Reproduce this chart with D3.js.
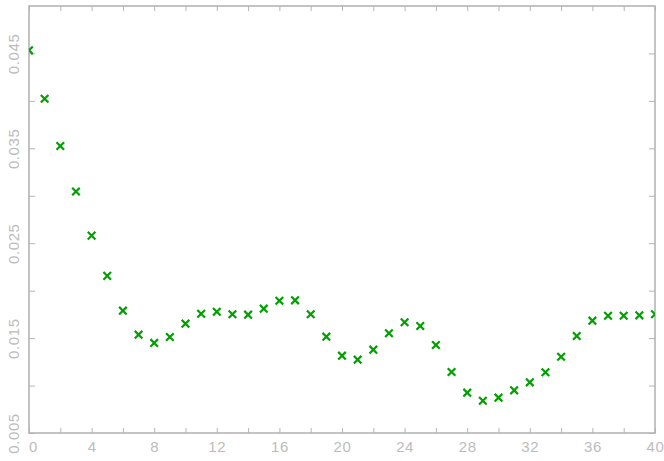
<!DOCTYPE html>
<html><head><meta charset="utf-8">
<script src="https://cdn.jsdelivr.net/npm/d3@7"></script>
<style>body{margin:0;background:#fff}svg{display:block}</style>
</head><body>
<script>
const xValues = [0,1,2,3,4,5,6,7,8,9,10,11,12,13,14,15,16,17,18,19,20,21,22,23,24,25,26,27,28,29,30,31,32,33,34,35,36,37,38,39,40];
const yValues = [0.04533,0.04023,0.03525,0.03045,0.0258,0.02156,0.01789,0.01536,0.01449,0.01512,0.01652,
  0.01757,0.01778,0.01751,0.01747,0.0181,0.01894,0.01898,0.01751,0.01515,0.01315,0.01273,0.01378,0.01551,
  0.01667,0.01628,0.01427,0.01143,0.00925,0.0084,0.00872,0.0095,0.01034,0.0114,0.01304,0.01522,0.01684,
  0.01736,0.01736,0.0174,0.01751];
const xTicks = d3.range(0, 41, 2);
const xLabels = [0,4,8,12,16,20,24,28,32,36,40];
const yTicks = [0.005,0.01,0.015,0.02,0.025,0.03,0.035,0.04,0.045];
const yLabels = ["0.005","0.015","0.025","0.035","0.045"];

const W = 664, H = 461;
const L = 29, R = 655, T = 6, B = 433;
const axisColor = "#b4b4b4", labelColor = "#bcbcbc", markColor = "#00a000";

const svg = d3.select("body").append("svg").attr("width", W).attr("height", H);
const x = d3.scaleLinear().domain([0, 40]).range([L, R]);
const y = d3.scaleLinear().domain([0.005, 0.05]).range([B, T]);

svg.append("defs").append("clipPath").attr("id","clip")
  .append("rect").attr("x", L).attr("y", T).attr("width", R-L).attr("height", B-T);

function styleAxis(g){
  g.select(".domain").remove();
  g.selectAll(".tick line").attr("stroke", axisColor).attr("stroke-width", 1);
  g.selectAll("text").attr("fill", labelColor)
    .style("font-family","'Liberation Sans', Arial, sans-serif").style("font-size","15px")
    .style("letter-spacing","0.6px");
}
const fmtX = d => xLabels.includes(d) ? String(d) : "";
const fmtY = d => { const s = d3.format(".3f")(d); return yLabels.includes(s) ? s : ""; };

// bottom
const gb = svg.append("g").attr("transform",`translate(0,${B})`)
  .call(d3.axisBottom(x).tickValues(xTicks).tickFormat(fmtX).tickSizeInner(-5).tickSizeOuter(0).tickPadding(8))
  .call(styleAxis);
gb.selectAll(".tick text").filter(d => d === 0).attr("x", 4);
// top
svg.append("g").attr("transform",`translate(0,${T})`)
  .call(d3.axisTop(x).tickValues(xTicks).tickFormat("").tickSizeInner(-5).tickSizeOuter(0))
  .call(styleAxis);
// left
const gl = svg.append("g").attr("transform",`translate(${L},0)`)
  .call(d3.axisLeft(y).tickValues(yTicks).tickFormat(fmtY).tickSizeInner(-6).tickSizeOuter(0).tickPadding(0))
  .call(styleAxis);
gl.selectAll(".tick text")
  .attr("transform","translate(-15,0) rotate(-90)")
  .attr("x",0).attr("dy","0.35em").attr("text-anchor","middle");
// right
svg.append("g").attr("transform",`translate(${R},0)`)
  .call(d3.axisRight(y).tickValues(yTicks).tickFormat("").tickSizeInner(-6).tickSizeOuter(0))
  .call(styleAxis);

// frame
svg.append("rect").attr("x", L).attr("y", T).attr("width", R-L).attr("height", B-T)
  .attr("fill","none").attr("stroke", axisColor).attr("stroke-width", 1.6);

// markers
const s = 3.8;
svg.append("g").attr("clip-path","url(#clip)")
  .selectAll("path").data(xValues.map((d,i)=>[d,yValues[i]])).join("path")
  .attr("d", d => {
    const cx = x(d[0]), cy = y(d[1]);
    return `M${cx-s},${cy-s}L${cx+s},${cy+s}M${cx-s},${cy+s}L${cx+s},${cy-s}`;
  })
  .attr("stroke", markColor).attr("stroke-width", 2.2).attr("fill","none");
</script>
</body></html>
